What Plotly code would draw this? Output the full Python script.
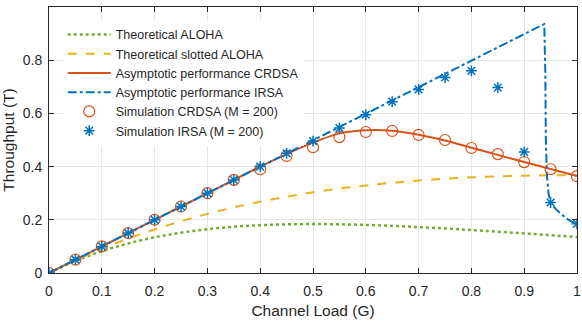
import plotly.graph_objects as go

G = [0, 0.05, 0.1, 0.15, 0.2, 0.25, 0.3, 0.35, 0.4, 0.45, 0.5, 0.55, 0.6, 0.65, 0.7, 0.75, 0.8, 0.85, 0.9, 0.95, 1.0]

aloha = [0, 0.0452, 0.0819, 0.1111, 0.1341, 0.1516, 0.1646, 0.1739, 0.1797, 0.1829, 0.1839,
         0.1831, 0.1807, 0.1771, 0.1726, 0.1673, 0.1615, 0.1553, 0.1488, 0.1421, 0.1353]
slotted = [0, 0.0476, 0.0905, 0.1291, 0.1637, 0.1947, 0.2222, 0.2466, 0.2681, 0.2869, 0.3033,
           0.3173, 0.3293, 0.3393, 0.3476, 0.3543, 0.3595, 0.3633, 0.3659, 0.3674, 0.3679]
crdsa_asym = [0, 0.05, 0.1, 0.15, 0.2, 0.25, 0.3, 0.35, 0.4, 0.447, 0.49,
              0.525, 0.537, 0.535, 0.52, 0.498, 0.471, 0.444, 0.417, 0.391, 0.365]

irsa_G = [0, 0.1, 0.2, 0.3, 0.4, 0.5, 0.6, 0.7, 0.8, 0.9, 0.938, 0.940, 0.941, 0.943, 0.946,
          0.95, 0.96, 0.97, 0.98, 0.99, 1.0]
irsa_asym = [0, 0.1, 0.2, 0.3, 0.4, 0.5, 0.6, 0.7, 0.8, 0.9, 0.936, 0.75, 0.5, 0.37, 0.3,
             0.265, 0.24, 0.222, 0.205, 0.193, 0.183]

crdsa_sim = [0, 0.05, 0.1, 0.15, 0.2, 0.25, 0.3, 0.35, 0.39, 0.44, 0.473,
             0.511, 0.53, 0.534, 0.519, 0.5, 0.47, 0.447, 0.417, 0.39, 0.364]
irsa_sim = [0, 0.05, 0.1, 0.15, 0.2, 0.25, 0.3, 0.35, 0.4, 0.45, 0.496,
            0.545, 0.595, 0.644, 0.69, 0.735, 0.76, 0.697, 0.455, 0.265, 0.185]

BLUE = "#0072BD"
ORANGE = "#D95319"
YELLOW = "#EDB120"
GREEN = "#77AC30"
FONT = "Liberation Sans, Arial, Helvetica, sans-serif"

fig = go.Figure()
fig.add_trace(go.Scatter(x=G, y=aloha, mode="lines", name="Theoretical ALOHA",
                         line=dict(color=GREEN, width=2.5, dash="dot", shape="spline")))
fig.add_trace(go.Scatter(x=G, y=slotted, mode="lines", name="Theoretical slotted ALOHA",
                         line=dict(color=YELLOW, width=2, dash="dash", shape="spline")))
fig.add_trace(go.Scatter(x=G, y=crdsa_asym, mode="lines", name="Asymptotic performance CRDSA",
                         line=dict(color=ORANGE, width=2, shape="spline", smoothing=0.6)))
fig.add_trace(go.Scatter(x=irsa_G, y=irsa_asym, mode="lines", name="Asymptotic performance IRSA",
                         line=dict(color=BLUE, width=2, dash="dashdot")))
fig.add_trace(go.Scatter(x=G, y=crdsa_sim, mode="markers", name="Simulation CRDSA (M = 200)",
                         marker=dict(symbol="circle-open", size=11, color=ORANGE, line=dict(width=1.2))))
fig.add_trace(go.Scatter(x=G, y=irsa_sim, mode="markers", name="Simulation IRSA (M = 200)",
                         marker=dict(symbol="asterisk-open", size=9, color=BLUE, line=dict(width=1.5, color=BLUE))))

axis_common = dict(showline=True, linecolor="#262626", linewidth=1, mirror="ticks",
                   ticks="inside", ticklen=5, tickcolor="#262626", showgrid=True,
                   gridcolor="#E6E6E6", gridwidth=1, zeroline=False, automargin=False,
                   tickfont=dict(family=FONT, size=14, color="#262626"))

fig.update_layout(
    width=582, height=322,
    margin=dict(l=49, r=5, t=7, b=49),
    plot_bgcolor="white", paper_bgcolor="white",
    font=dict(family=FONT, size=14, color="#262626"),
    xaxis=dict(range=[0, 1], dtick=0.1, tickformat="~g", ticklabelstandoff=5,
               title=dict(text="Channel Load (G)", font=dict(size=15.5), standoff=7), **axis_common),
    yaxis=dict(range=[0, 1], dtick=0.2, tickformat="~g", ticklabelstandoff=3,
               title=dict(text="Throughput (T)", font=dict(size=15.5), standoff=6), **axis_common),
    legend=dict(x=0.026, y=0.952, xanchor="left", yanchor="top", bgcolor="rgba(255,255,255,1)",
                borderwidth=0, font=dict(family=FONT, size=12.5, color="#262626"),
                tracegroupgap=0, itemwidth=43),
    showlegend=True,
)

fig.write_html("out.html")
